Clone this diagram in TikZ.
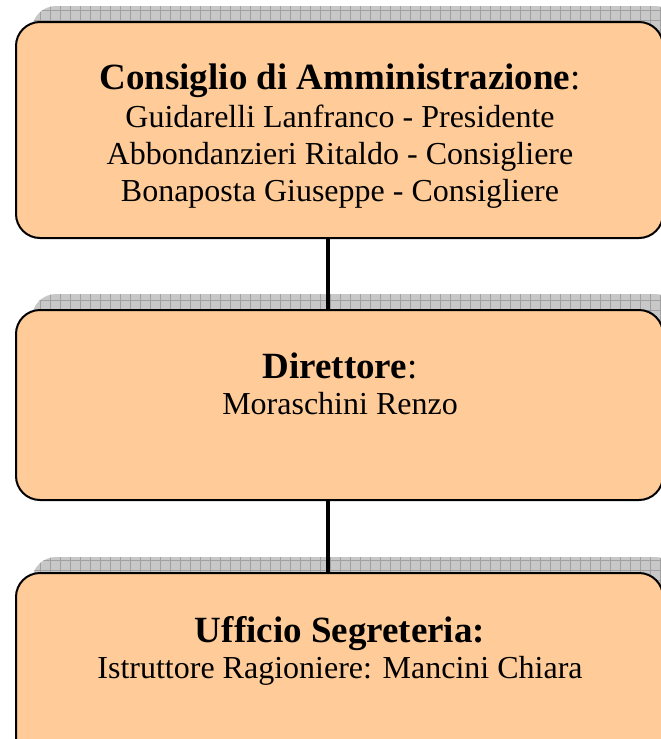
\documentclass[tikz,border=0pt]{standalone}
\usepackage{fontspec}
\setmainfont{Liberation Serif}
\definecolor{boxfill}{HTML}{FFCC99}
\definecolor{shadowfill}{HTML}{C8C8C8}
\definecolor{shadowgrid}{HTML}{A0A0A0}
\begin{document}
\begin{tikzpicture}[x=1pt,y=-1pt,
  orgbox/.style={draw=black,line width=2pt,fill=boxfill,rounded corners=24pt},
  head/.style={anchor=base,font=\fontsize{37}{42}\selectfont\bfseries,inner sep=0pt},
  body/.style={anchor=base,font=\fontsize{32}{37}\selectfont,inner sep=0pt},
  link/.style={draw=black,line width=4pt}]
\useasboundingbox (0,0) rectangle (661,739);
\clip (0,0) rectangle (661,739);
% shadows
\foreach \t/\b in {22/238,310/500,573/770}{
  \begin{scope}
    \clip[rounded corners=24pt] (32,\t-16) rectangle (679,\b-16);
    \fill[shadowfill] (32,\t-16) rectangle (679,\b-16);
    \draw[shadowgrid,line width=0.6pt,step=10pt] (30,\t-20) grid (690,\b);
  \end{scope}
}
\coordinate (cx) at (328,0);
% boxes
\path[orgbox] (16,22) rectangle (663,238);
\node[inner sep=0pt,minimum width=647pt,minimum height=216pt] (b1) at (339.5,130) {};
\node[inner sep=0pt,minimum width=647pt,minimum height=190pt] (b2) at (339.5,405) {};
\node[inner sep=0pt,minimum width=647pt,minimum height=197pt] (b3) at (339.5,671.5) {};
\draw[link] (b1.south -| cx) -- (b2.north -| cx);
\draw[link] (b2.south -| cx) -- (b3.north -| cx);
\path[orgbox] (16,310) rectangle (663,500);
\path[orgbox] (16,573) rectangle (663,770);
% texts
\node[head] (h1) at (340,89) {Consiglio di Amministrazione\mdseries:};
\node[body] (l11) at (340,127) {Guidarelli Lanfranco - Presidente};
\node[body] (l12) at (340,164) {Abbondanzieri Ritaldo - Consigliere};
\node[body] (l13) at (340,201) {Bonaposta Giuseppe - Consigliere};
\node[head] (h2) at (340,378) {Direttore\mdseries:};
\node[body] (l21) at (340,414) {Moraschini Renzo};
\node[head] (h3) at (340,642) {Ufficio Segreteria:};
\node[body] (l31) at (340,678) {Istruttore Ragioniere: Mancini Chiara};
\end{tikzpicture}
\end{document}
